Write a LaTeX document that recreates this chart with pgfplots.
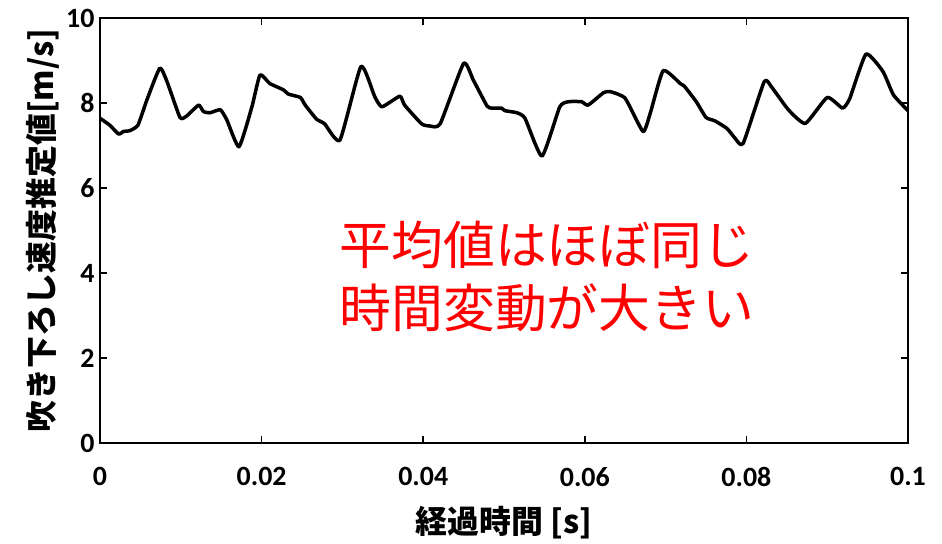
\documentclass[border=0pt]{standalone}
\usepackage{fontspec}
\usepackage{pgfplots}
\pgfplotsset{compat=1.18}
\setmainfont{Carlito}
\newfontfamily\jp{Noto Sans CJK JP}
\begin{document}
\begin{tikzpicture}
\begin{axis}[
  name=ax,
  scale only axis,
  width=808bp, height=425bp,
  xmin=0, xmax=0.1, ymin=0, ymax=10,
  xtick={0,0.02,0.04,0.06,0.08,0.1},
  xticklabels={0,0.02,0.04,0.06,0.08,0.1},
  ytick={0,2,4,6,8,10},
  tick align=inside,
  major tick length=7bp,
  tick style={line width=1.5bp, black},
  axis line style={line width=2.2bp},
  /pgf/number format/assume math mode=true,
  tick label style={font=\fontsize{28}{32}\selectfont\bfseries},
  xticklabel style={yshift=-21bp},
  yticklabel style={xshift=-2bp},
  xlabel={\jp\bfseries 経過時間 [s]},
  ylabel={\jp\bfseries 吹き下ろし速度推定値[m/s]},
  xlabel style={font=\fontsize{32}{36}\selectfont, yshift=-12bp},
  ylabel style={font=\fontsize{32}{36}\selectfont, yshift=0bp},
  clip=false,
]
\addplot[black, line width=3.5bp, line join=round, smooth, tension=0.3] coordinates {
(0.0000,7.64) (0.0012,7.48) (0.0023,7.27) (0.0029,7.33) (0.0037,7.35) (0.0047,7.48)
(0.0058,8.07) (0.0074,8.82) (0.0083,8.50) (0.0099,7.66) (0.0107,7.69) (0.0122,7.95)
(0.0128,7.80) (0.0136,7.77) (0.0149,7.84) (0.0157,7.60) (0.0172,6.97) (0.0188,7.91)
(0.0198,8.66) (0.0210,8.46) (0.0227,8.31) (0.0233,8.21) (0.0248,8.13) (0.0254,7.95)
(0.0268,7.62) (0.0278,7.51) (0.0297,7.13) (0.0323,8.86) (0.0340,8.15) (0.0349,7.91)
(0.0371,8.16) (0.0377,7.95) (0.0398,7.51) (0.0408,7.46) (0.0421,7.51) (0.0450,8.93)
(0.0462,8.54) (0.0479,7.93) (0.0485,7.88) (0.0497,7.88) (0.0501,7.82) (0.0516,7.77)
(0.0526,7.64) (0.0547,6.75) (0.0569,7.91) (0.0580,8.03) (0.0596,8.03) (0.0604,7.95)
(0.0623,8.24) (0.0631,8.27) (0.0650,8.11) (0.0672,7.33) (0.0681,7.76) (0.0697,8.76)
(0.0718,8.46) (0.0723,8.40) (0.0738,8.03) (0.0750,7.66) (0.0761,7.58) (0.0776,7.40)
(0.0786,7.17) (0.0796,7.05) (0.0822,8.50) (0.0831,8.38) (0.0852,7.84) (0.0873,7.52)
(0.0900,8.13) (0.0919,7.88) (0.0928,8.11) (0.0948,9.15) (0.0969,8.74) (0.0982,8.19)
(0.1000,7.82)
};
\node[red, font=\jp\fontsize{52}{63}\selectfont, align=center] at (axis cs:0.0553,3.92) {平均値はほぼ同じ\\時間変動が大きい};
\end{axis}
\pgfresetboundingbox
\path ([xshift=-100bp,yshift=-101bp]ax.south west) rectangle ([xshift=34bp,yshift=18bp]ax.north east);
\end{tikzpicture}
\end{document}
